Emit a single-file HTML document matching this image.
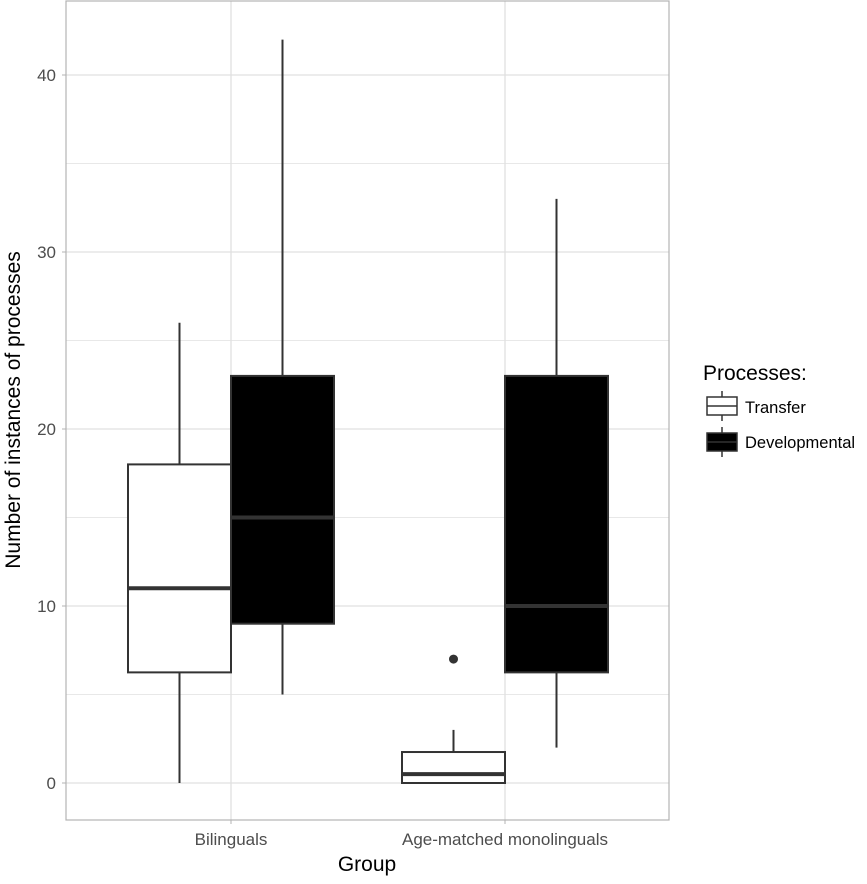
<!DOCTYPE html>
<html><head><meta charset="utf-8"><style>
body{margin:0;background:#fff;font-family:"Liberation Sans",sans-serif}
svg text{font-family:"Liberation Sans",sans-serif}
</style></head><body>
<svg id="chart" width="867" height="879" xmlns="http://www.w3.org/2000/svg">
<g id="grid"></g>
<g id="marks"></g>
<g id="axes"></g>
<text x="0" y="0" transform="translate(20,410) rotate(-90)" text-anchor="middle" font-size="21" fill="#000">Number of instances of processes</text>
<text x="367" y="871" text-anchor="middle" font-size="21" fill="#000">Group</text>
<g>
<text x="703" y="380" font-size="21" fill="#000">Processes:</text>
<g>
<line x1="722" y1="391" x2="722" y2="421" stroke="#333" stroke-width="1.5"/>
<rect x="707" y="397" width="30" height="18" fill="#fff" stroke="#333" stroke-width="1.5"/>
<line x1="707" y1="406" x2="737" y2="406" stroke="#333" stroke-width="1.5"/>
<text x="745" y="413" font-size="16.5" fill="#000">Transfer</text></g>
<g>
<line x1="722" y1="427" x2="722" y2="457" stroke="#333" stroke-width="1.5"/>
<rect x="707" y="433" width="30" height="18" fill="#000" stroke="#333" stroke-width="1.5"/>
<line x1="707" y1="442" x2="737" y2="442" stroke="#333" stroke-width="1.5"/>
<text x="745" y="448" font-size="16.5" fill="#000">Developmental</text></g>
</g>
</svg>
<script>
const categories=["Bilinguals","Age-matched monolinguals"];
const series=["Transfer","Developmental"];
const mins=[[0,5],[0,2]];
const q1s=[[6.25,9],[0,6.25]];
const medians=[[11,15],[0.5,10]];
const q3s=[[18,23],[1.75,23]];
const maxs=[[26,42],[3,33]];
const outliers=[[[],[]],[[7],[]]];
const yTicks=[0,10,20,30,40];
const fills=["#fff","#000"];
const NS="http://www.w3.org/2000/svg";
const L=66,R=669,T=1,B=820;
const y=v=>783-v*17.7;
const x=i=>231+i*274;
function mk(p,t,a){const e=document.createElementNS(NS,t);for(const k in a)e.setAttribute(k,a[k]);p.appendChild(e);return e;}
const grid=document.getElementById('grid'),marks=document.getElementById('marks'),axes=document.getElementById('axes');
for(let v=-5;v<=45;v+=5){const yy=y(v);if(yy<T||yy>B)continue;mk(grid,'line',{x1:L,x2:R,y1:yy,y2:yy,stroke:'#e0e0e0','stroke-width':v%10===0?1.3:0.7});}
categories.forEach((c,i)=>{mk(grid,'line',{x1:x(i),x2:x(i),y1:T,y2:B,stroke:'#e0e0e0','stroke-width':1.3});
 const t=mk(axes,'text',{x:x(i),y:845,'text-anchor':'middle','font-size':17,fill:'#4d4d4d'});t.textContent=c;
 
 mk(axes,'line',{x1:x(i),x2:x(i),y1:B,y2:B+4,stroke:'#b3b3b3'});
 series.forEach((s,j)=>{
  const g=mk(marks,'g',{});
  
  
  const x0=x(i)+(j===0?-103:0),w=103,cx=x0+w/2;
  mk(g,'line',{x1:cx,x2:cx,y1:y(maxs[i][j]),y2:y(q3s[i][j]),stroke:'#333','stroke-width':2});
  mk(g,'line',{x1:cx,x2:cx,y1:y(q1s[i][j]),y2:y(mins[i][j]),stroke:'#333','stroke-width':2});
  mk(g,'rect',{x:x0,y:y(q3s[i][j]),width:w,height:y(q1s[i][j])-y(q3s[i][j]),fill:fills[j],stroke:'#333','stroke-width':2});
  mk(g,'line',{x1:x0,x2:x0+w,y1:y(medians[i][j]),y2:y(medians[i][j]),stroke:'#333','stroke-width':4});
  outliers[i][j].forEach(o=>mk(g,'circle',{cx:cx,cy:y(o),r:4.5,fill:'#333'}));
 });
});
yTicks.forEach(v=>{const t=mk(axes,'text',{x:56,y:y(v)+6,'text-anchor':'end','font-size':17,fill:'#4d4d4d'});t.textContent=v;
 
 mk(axes,'line',{x1:L-4,x2:L,y1:y(v),y2:y(v),stroke:'#b3b3b3'});});
mk(axes,'rect',{x:L,y:T,width:R-L,height:B-T,fill:'none',stroke:'#b3b3b3','stroke-width':1.2});
</script>
</body></html>
